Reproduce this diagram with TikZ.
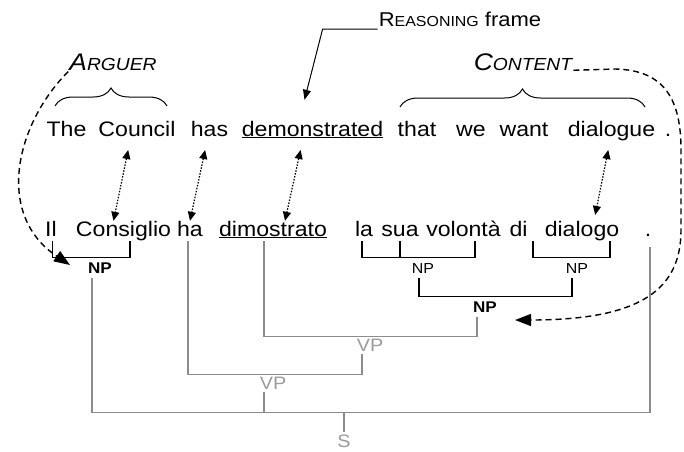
\documentclass[tikz,border=0pt]{standalone}
\usepackage{fontspec}
\setmainfont{Liberation Sans}[FakeStretch=1.1]
\usetikzlibrary{arrows.meta,decorations.pathreplacing}

\definecolor{treegray}{HTML}{8C8C8C}
\definecolor{labelgray}{HTML}{9A9A9A}

% fake small caps: big size, small size, first letter, rest
\newcommand{\fakesc}[4]{{\fontsize{#1}{#1}\selectfont #3\fontsize{#2}{#2}\selectfont #4}}

\tikzset{
	word/.style={anchor=base, inner sep=0pt, text height=15pt, text depth=5pt,
		font=\fontsize{21}{25}\selectfont},
	np/.style={inner xsep=1pt, inner ysep=5pt, text height=10pt, text depth=0pt,
		font=\fontsize{14.5}{16}\selectfont},
	npb/.style={np, font=\fontsize{15.5}{17}\selectfont\bfseries},
	cat/.style={inner xsep=1pt, inner ysep=2pt, text height=13pt, text depth=0pt,
		text=labelgray, font=\fontsize{18}{20}\selectfont},
	frame/.style={inner sep=1pt},
	brc/.style={decorate, decoration={brace, amplitude=18pt}, line width=1pt},
	brk/.style={line width=1.2pt, black},
	tree/.style={line width=1.2pt, treegray},
	link/.style={{Triangle[length=9pt,width=8pt]}-{Triangle[length=9pt,width=8pt]},
		line width=1.2pt, dash pattern=on 1.5pt off 1.5pt, shorten <=9pt},
	dasharrow/.style={-{Triangle[length=16pt,width=12pt]}, line width=1.4pt,
		dash pattern=on 6pt off 4pt},
	ptr/.style={-{Triangle[length=10pt,width=8pt]}, line width=1pt}
}

\begin{document}
\begin{tikzpicture}[x=1pt,y=-1pt]
	\useasboundingbox (0,0) rectangle (684,451);

	% English sentence
	\foreach \nm/\x/\txt in {the/66.5/The, council/137/Council, has/209.5/has,
		demonstrated/312.5/\underline{demonstrated}, that/417/that, we/471/we,
		want/524/want, dialogue/611.5/dialogue, dotA/668/.}{
		\node[word] (\nm) at (\x,136) {\txt};
	}
	% Italian sentence
	\foreach \nm/\x/\txt in {il/51/Il, consiglio/123.5/Consiglio, ha/190/ha,
		dimostrato/273/\underline{dimostrato}, la/364/la, sua/400/sua,
		volonta/463.5/volontà, di/518.5/di, dialogo/582/dialogo, dotB/648/.}{
		\node[word] (\nm) at (\x,236) {\txt};
	}

	% frame labels
	\node[frame, font=\itshape] (arguer) at (113,62) {\fakesc{24}{17.5}{A}{RGUER}};
	\node[frame, font=\itshape] (content) at (523,62) {\fakesc{24}{17.5}{C}{ONTENT}};
	\node[frame, font=\fontsize{20}{24}\selectfont] (reasoning) at (460,19)
		{\fakesc{20}{14.5}{R}{EASONING} frame};

	\draw[brc] (55,106) -- (167,106);
	\draw[brc] (400,107) -- (645,107);

	\draw[ptr] ([yshift=-3pt]reasoning.base west) -- ++(-55,0)
		-- ([xshift=-8pt,yshift=21pt]demonstrated.north);

	% word alignments
	\draw[link] ([xshift=-7pt]council.south) -- ([xshift=-10pt]consiglio.north);
	\draw[link] ([xshift=-2.5pt]has.south) -- (ha.north);
	\draw[link] ([xshift=-10pt]demonstrated.south) -- ([xshift=12pt]dimostrato.north);
	\draw[link, shorten >=6pt] ([xshift=-1.5pt]dialogue.south) -- ([xshift=12pt]dialogo.north);

	% phrase labels
	\node[npb] (np1) at (100,268) {NP};
	\node[np] (np2) at (423,268) {NP};
	\node[np] (np3) at (577,268) {NP};
	\node[npb] (np4) at (485,307) {NP};
	\node[cat] (vp1) at (370,345) {VP};
	\node[cat] (vp2) at (273,383) {VP};
	\node[cat] (s) at (344,441) {S};

	% NP brackets
	\draw[brk] ([xshift=1.7pt]il.south) |- (np1.north) -| ([xshift=6.5pt]consiglio.south);
	\draw[brk] ([xshift=-2pt]la.south) |- (np2.north) -| ([xshift=11.5pt]volonta.south);
	\draw[brk] (sua.south) -- (sua.south |- np2.north);
	\draw[brk] ([xshift=14.5pt]di.south) |- (np3.north) -| ([xshift=28pt]dialogo.south);
	\draw[brk] ([xshift=-4pt]np2.south) |- (np4.north) -| ([xshift=-5pt]np3.south);

	% VP and S
	\draw[tree] ([xshift=-9pt]dimostrato.south) |- (vp1.north) -| ([xshift=-8pt]np4.south);
	\draw[tree] ([xshift=-2pt]ha.south) |- (vp2.north) -| ([xshift=-8pt]vp1.south);
	\coordinate (sbar) at ([yshift=20pt]s.north);
	\draw[tree] ([xshift=-8pt]np1.south) |- (sbar) -| ([xshift=2pt,yshift=-6pt]dotB.south);
	\draw[tree] ([xshift=-9pt]vp2.south) -- ([xshift=-9pt]vp2.south |- sbar);
	\draw[tree] (sbar) -- (s.north);

	% frame fillers
	\coordinate (argtip) at (70,265);
	\coordinate (contip) at (515,320);
	\draw[dasharrow] (arguer.south west) .. controls (15,125) and (-5,215) .. (argtip);
	\draw[dasharrow] (content.base east) -- (615,69) .. controls (665,70) and (681,100) .. (681,150)
		-- (681,230) .. controls (681,290) and (640,320) .. (contip);
\end{tikzpicture}
\end{document}
